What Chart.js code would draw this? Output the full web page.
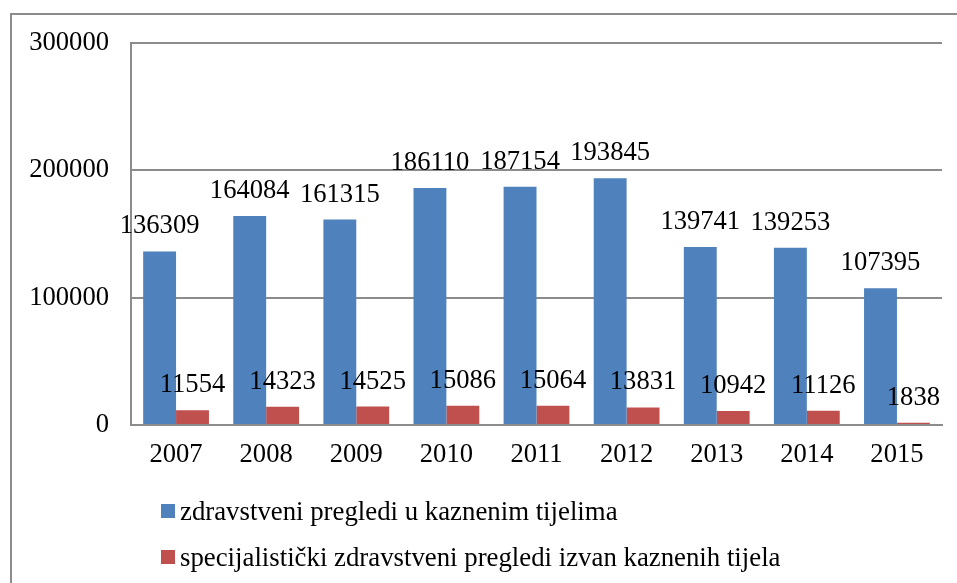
<!DOCTYPE html>
<html>
<head>
<meta charset="utf-8">
<script src="https://cdn.jsdelivr.net/npm/chart.js@4.4.1/dist/chart.umd.min.js"></script>
<style>
  body { margin: 0; background: #fff; }
  #wrap { position: relative; width: 957px; height: 583px; }
  #frame {
    position: absolute; left: 10px; top: 13px; right: 0; bottom: 0;
    border-top: 2px solid #8c8c8c; border-left: 2px solid #8c8c8c;
    pointer-events: none;
  }
  #legend { position: absolute; left: 161px; top: 488px; font-family: "Liberation Serif", serif; font-size: 26.8px; color: #000; }
  .item { height: 46px; display: flex; align-items: center; white-space: nowrap; }
  .box { width: 14px; height: 14px; margin-right: 5px; flex: none; }
</style>
</head>
<body>
<div id="wrap">
  <canvas id="myChart" width="957" height="583"></canvas>
  <div id="frame"></div>
  <div id="legend"></div>
</div>
<script>
const years = ["2007", "2008", "2009", "2010", "2011", "2012", "2013", "2014", "2015"];
const inside = [136309, 164084, 161315, 186110, 187154, 193845, 139741, 139253, 107395];
const outside = [11554, 14323, 14525, 15086, 15064, 13831, 10942, 11126, 1838];
const yTicks = [0, 100000, 200000, 300000];

const serif = "'Liberation Serif', 'Times New Roman', serif";
const fontSize = 26.6;

// draw the value above every bar
const valueLabels = {
  id: "valueLabels",
  afterDatasetsDraw(chart) {
    const ctx = chart.ctx;
    ctx.save();
    ctx.font = fontSize + "px " + serif;
    ctx.fillStyle = "#000";
    ctx.textAlign = "center";
    ctx.textBaseline = "alphabetic";
    chart.data.datasets.forEach((ds, i) => {
      chart.getDatasetMeta(i).data.forEach((bar, j) => {
        ctx.fillText(String(ds.data[j]), bar.x, bar.y - 18);
      });
    });
    ctx.restore();
  }
};

const chart = new Chart(document.getElementById("myChart"), {
  type: "bar",
  data: {
    labels: years,
    datasets: [
      {
        label: "zdravstveni pregledi u kaznenim tijelima",
        data: inside,
        backgroundColor: "#4F81BD",
      },
      {
        label: "specijalistički zdravstveni pregledi izvan kaznenih tijela",
        data: outside,
        backgroundColor: "#C0504D",
      },
    ],
  },
  options: {
    responsive: false,
    animation: false,
    layout: {
      padding: { left: 0, top: 43, right: 15, bottom: 108 },
    },
    plugins: {
      legend: { display: false },
      tooltip: { enabled: false },
    },
    datasets: {
      bar: { categoryPercentage: 0.73, barPercentage: 1 },
    },
    scales: {
      x: {
        grid: { display: false, drawTicks: false },
        border: { display: true, color: "#8c8c8c", width: 2 },
        ticks: { color: "#000", font: { family: serif, size: fontSize }, padding: 14 },
        afterFit: (s) => { s.height = 50; },
      },
      y: {
        min: 0,
        max: 300000,
        afterBuildTicks: (s) => { s.ticks = yTicks.map((v) => ({ value: v })); },
        grid: { color: "#8c8c8c", lineWidth: 2, drawTicks: false },
        border: { display: true, color: "#8c8c8c", width: 2 },
        ticks: {
          color: "#000",
          font: { family: serif, size: fontSize },
          padding: 22,
          callback: (v) => String(v),
        },
        afterFit: (s) => { s.width = 131; },
      },
    },
  },
  plugins: [valueLabels],
});

// legend as a vertical list below the chart
const legend = document.getElementById("legend");
chart.data.datasets.forEach((ds) => {
  const row = document.createElement("div");
  row.className = "item";
  const box = document.createElement("span");
  box.className = "box";
  box.style.background = ds.backgroundColor;
  row.appendChild(box);
  row.appendChild(document.createTextNode(ds.label));
  legend.appendChild(row);
});
</script>
</body>
</html>
